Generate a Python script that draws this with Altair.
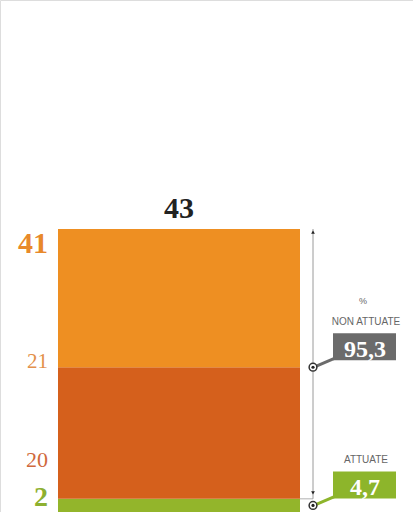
import altair as alt
import pandas as pd

# data
segments = ["ATTUATE", "NON ATTUATE (20)", "NON ATTUATE (21)"]
seg_values = [2, 20, 21]
seg_colors = ["#93B52B", "#D5601C", "#EE8F22"]
total = 43
non_attuate = 41
pct_labels = ["95,3", "4,7"]
pct_titles = ["NON ATTUATE", "ATTUATE"]
box_colors = ["#6B6B6B", "#8DB52B"]

starts, ends, acc = [], [], 0
for v in seg_values:
    starts.append(acc)
    acc += v
    ends.append(acc)
bars = pd.DataFrame({"seg": segments, "start": starts, "end": ends})

Y_MAX = 77.8
yscale = alt.Scale(domain=[0, Y_MAX], nice=False, zero=False)
serif = "Liberation Serif"
sans = "Liberation Sans"

bar = alt.Chart(bars).mark_bar(stroke=None).encode(
    x=alt.value(58), x2=alt.value(300),
    y=alt.Y("start:Q", scale=yscale, axis=None), y2="end:Q",
    color=alt.Color("seg:N", scale=alt.Scale(domain=segments, range=seg_colors), legend=None),
)

def txt(df, text, y, color, size, bold, x, align="center", dy=0, font=serif):
    return alt.Chart(df).mark_text(
        font=font, fontSize=size, fontWeight="bold" if bold else "normal",
        color=color, align=align, baseline="alphabetic", dy=dy,
    ).encode(x=alt.value(x), y=alt.Y(f"{y}:Q", scale=yscale), text=f"{text}:N")

lbl = pd.DataFrame({
    "total": [str(total)], "tot_y": [ends[-1]],
    "non": [str(non_attuate)],
    "l21": [str(seg_values[2])], "y21": [ends[1]],
    "l20": [str(seg_values[1])], "y20": [ends[0]],
    "l2": [str(seg_values[0])], "y2": [starts[0]],
})

t43 = txt(lbl, "total", "tot_y", "#222222", 30, True, 179, dy=-11)
t41 = txt(lbl, "non", "tot_y", "#E8892A", 30, True, 48, align="right", dy=24)
t21 = txt(lbl, "l21", "y21", "#E3904A", 21, False, 48, align="right", dy=1)
t20 = txt(lbl, "l20", "y20", "#D0693C", 22, False, 48, align="right", dy=-32)
t2 = txt(lbl, "l2", "y2", "#8DB030", 28, True, 48, align="right", dy=-6)

# right-hand annotation
rng = pd.DataFrame({"lo": [ends[0]], "hi": [ends[-1]]})
vline = alt.Chart(rng).mark_rule(color="#9a9a9a", strokeWidth=1).encode(
    x=alt.value(313), y=alt.Y("lo:Q", scale=yscale), y2="hi:Q")
up = alt.Chart(rng).mark_point(shape="triangle-up", filled=True, color="#222", size=14, opacity=1).encode(
    x=alt.value(313), y=alt.Y("hi:Q", scale=yscale), yOffset=alt.value(3))
down = alt.Chart(rng).mark_point(shape="triangle-down", filled=True, color="#222", size=14, opacity=1).encode(
    x=alt.value(313), y=alt.Y("lo:Q", scale=yscale), yOffset=alt.value(-6))
tick = alt.Chart(rng).mark_rule(color="#b0b0b0", strokeWidth=1).encode(
    x=alt.value(300), x2=alt.value(313), y=alt.Y("lo:Q", scale=yscale), y2="lo:Q")

anchors = [ends[1], seg_values[0] / 2]
ann = pd.DataFrame({"anchor": anchors, "pct": pct_labels, "title": pct_titles})

layers = []
for i in range(len(anchors)):
    row = ann.iloc[[i]]
    c = alt.Chart(row)
    layers.append(c.mark_rule(strokeWidth=3, y2Offset=-9, color=box_colors[i]).encode(
        x=alt.value(314), x2=alt.value(335),
        y=alt.Y("anchor:Q", scale=yscale), y2="anchor:Q"))
    layers.append(c.mark_rect(yOffset=-34, y2Offset=-7, color=box_colors[i]).encode(
        x=alt.value(333), x2=alt.value(396),
        y=alt.Y("anchor:Q", scale=yscale), y2="anchor:Q"))

circ_out = alt.Chart(ann).mark_point(shape="circle", filled=True, fill="white", stroke="#333",
                                     strokeWidth=1.5, size=60, opacity=1).encode(
    x=alt.value(313), y=alt.Y("anchor:Q", scale=yscale))
circ_in = alt.Chart(ann).mark_point(shape="circle", filled=True, color="#222", size=10, opacity=1).encode(
    x=alt.value(313), y=alt.Y("anchor:Q", scale=yscale))

pct_text = alt.Chart(ann).mark_text(font=serif, fontSize=24, fontWeight="bold", color="white",
                                    align="center", baseline="alphabetic", dy=-10).encode(
    x=alt.value(365), y=alt.Y("anchor:Q", scale=yscale), text="pct:N")
title_text = alt.Chart(ann).mark_text(font=sans, fontSize=10, color="#666666",
                                      align="center", baseline="alphabetic", dy=-42).encode(
    x=alt.value(366), y=alt.Y("anchor:Q", scale=yscale), text="title:N")
pct_sign = alt.Chart(ann.iloc[[0]]).mark_text(font=sans, fontSize=9, color="#666666",
                                      align="center", baseline="alphabetic", dy=-63).encode(
    x=alt.value(363), y=alt.Y("anchor:Q", scale=yscale), text=alt.value("%"))

chart = alt.layer(
    bar, tick, vline, up, down, *layers, circ_out, circ_in,
    t43, t41, t21, t20, t2, pct_text, title_text, pct_sign,
).properties(
    width=413, height=512,
    autosize=alt.AutoSizeParams(type="none"),
    padding=0,
).configure_view(strokeWidth=0, stroke="transparent").configure(background="white")

chart.save("out.html", embed_options={"renderer": "svg", "actions": False})
